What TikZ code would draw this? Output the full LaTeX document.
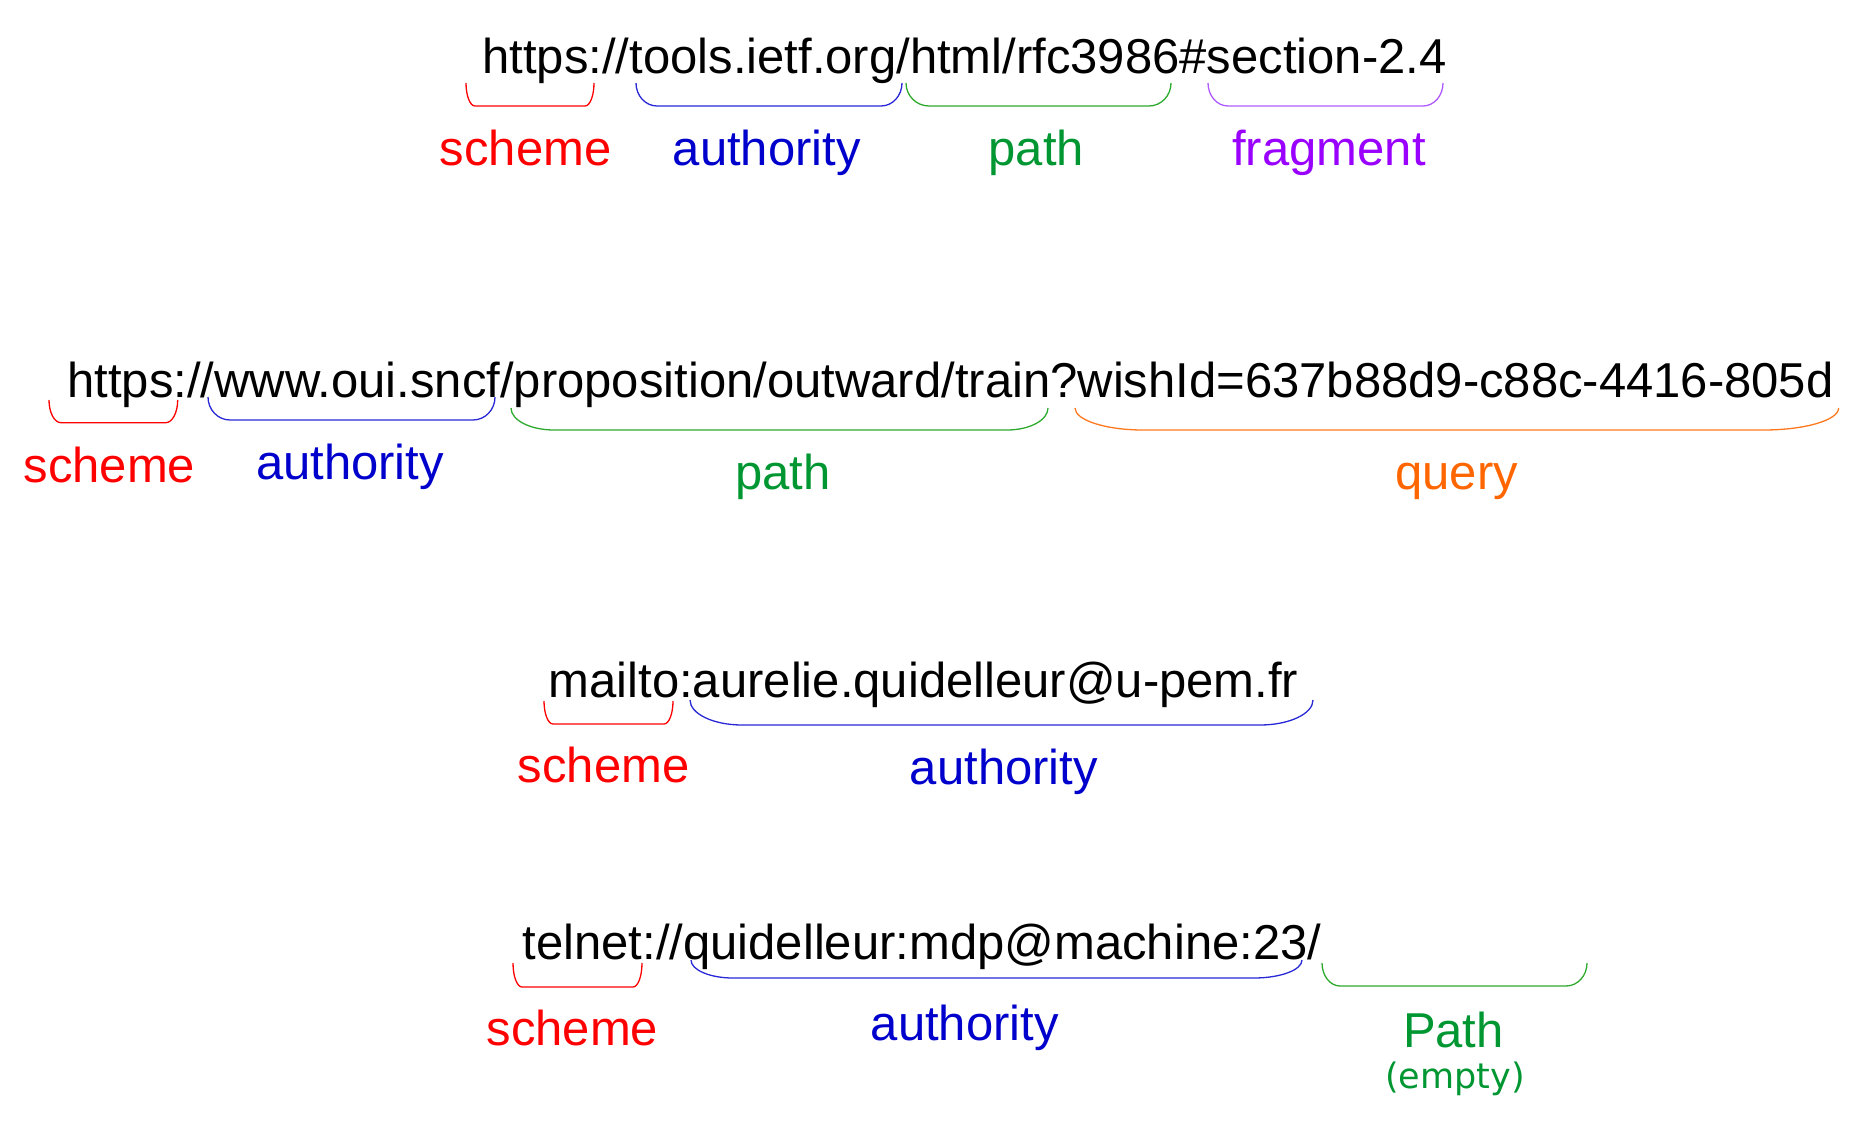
\documentclass[tikz,border=0pt]{standalone}
\usepackage{fontspec}
\setmainfont{Liberation Sans}
\newfontfamily\dvfont{DejaVu Sans}
\definecolor{cred}{RGB}{255,0,0}
\definecolor{cblue}{RGB}{0,0,204}
\definecolor{cblueline}{RGB}{40,40,215}
\definecolor{cgreen}{RGB}{0,150,50}
\definecolor{cgreenline}{RGB}{45,170,45}
\definecolor{cpurple}{RGB}{153,0,255}
\definecolor{cpurpleline}{RGB}{175,90,255}
\definecolor{corange}{RGB}{255,102,0}
\definecolor{corangeline}{RGB}{255,120,30}
% #1 style, #2 x left, #3 x right, #4 y top, #5 y bottom, #6 rx left, #7 rx right
\newcommand\ubrk[7]{%
  \draw[brk,#1] (#2,#4) .. controls (#2,{#4+0.552*(#5-#4)}) and ({#2+0.448*#6},#5) .. ({#2+#6},#5)
     -- ({#3-#7},#5) .. controls ({#3-0.448*#7},#5) and (#3,{#4+0.552*(#5-#4)}) .. (#3,#4);}
\begin{document}
\begin{tikzpicture}[x=1pt,y=-1pt,
  url/.style={inner sep=0pt,anchor=base,font=\fontsize{49}{58}\selectfont},
  lbl/.style={inner sep=0pt,anchor=base,font=\fontsize{49}{58}\selectfont},
  small/.style={inner sep=0pt,anchor=base,font=\dvfont\fontsize{35}{42}\selectfont},
  brk/.style={line width=1.3pt}]
\useasboundingbox (0,0) rectangle (1854,1131);

% ---- line 1
\node[url] (u1) at (964.5,74) {https://tools.ietf.org/html/rfc3986\#section-2.4};
\ubrk{cred}{466}{594}{83}{106}{9}{9}
\ubrk{cblueline}{636}{902}{83}{106}{21}{21}
\ubrk{cgreenline}{906}{1171}{83}{106}{23}{22}
\ubrk{cpurpleline}{1208}{1443}{83}{106}{20}{20}
\node[lbl,text=cred] (s1) at (525.6,165.5) {scheme};
\node[lbl,text=cblue] (a1) at (766.8,165.5) {authority};
\node[lbl,text=cgreen] (p1) at (1036.4,165.5) {path};
\node[lbl,text=cpurple] (f1) at (1329,165.5) {fragment};

% ---- line 2
\node[url] (u2) at (950.5,397) {https://www.oui.sncf/proposition/outward/train?wishId=637b88d9-c88c-4416-805d};
\ubrk{cred}{49}{177.7}{400}{422.7}{12}{12}
\ubrk{cblueline}{208}{495}{397}{420}{22}{22}
\ubrk{cgreenline}{511}{1048}{408}{430}{43}{41}
\ubrk{corangeline}{1075}{1838.6}{408}{430}{68}{75}
\node[lbl,text=cred] (s2) at (109.4,482.5) {scheme};
\node[lbl,text=cblue] (a2) at (350,479.5) {authority};
\node[lbl,text=cgreen] (p2) at (782.7,489.5) {path};
\node[lbl,text=corange] (q2) at (1456.7,489.5) {query};

% ---- line 3
\node[url] (u3) at (923.5,697.5) {mailto:aurelie.quidelleur@u-pem.fr};
\ubrk{cred}{544}{673}{701}{724}{9}{9}
\ubrk{cblueline}{690}{1313}{700}{725}{52}{53}
\node[lbl,text=cred] (s3) at (603.6,782.5) {scheme};
\node[lbl,text=cblue] (a3) at (1003.9,784.5) {authority};

% ---- line 4
\node[url] (u4) at (922,959) {telnet://quidelleur:mdp@machine:23/};
\ubrk{cred}{513}{642}{963}{987}{9}{9}
\ubrk{cblueline}{691}{1302}{960}{978}{42}{48}
\ubrk{cgreenline}{1322}{1587}{963}{986}{18}{21}
\node[lbl,text=cred] (s4) at (572.3,1045.5) {scheme};
\node[lbl,text=cblue] (a4) at (964.8,1040.5) {authority};
\node[lbl,text=cgreen] (p4) at (1453.4,1047) {Path};
\node[small,text=cgreen] (e4) at (1454.9,1088) {(empty)};
\end{tikzpicture}
\end{document}
